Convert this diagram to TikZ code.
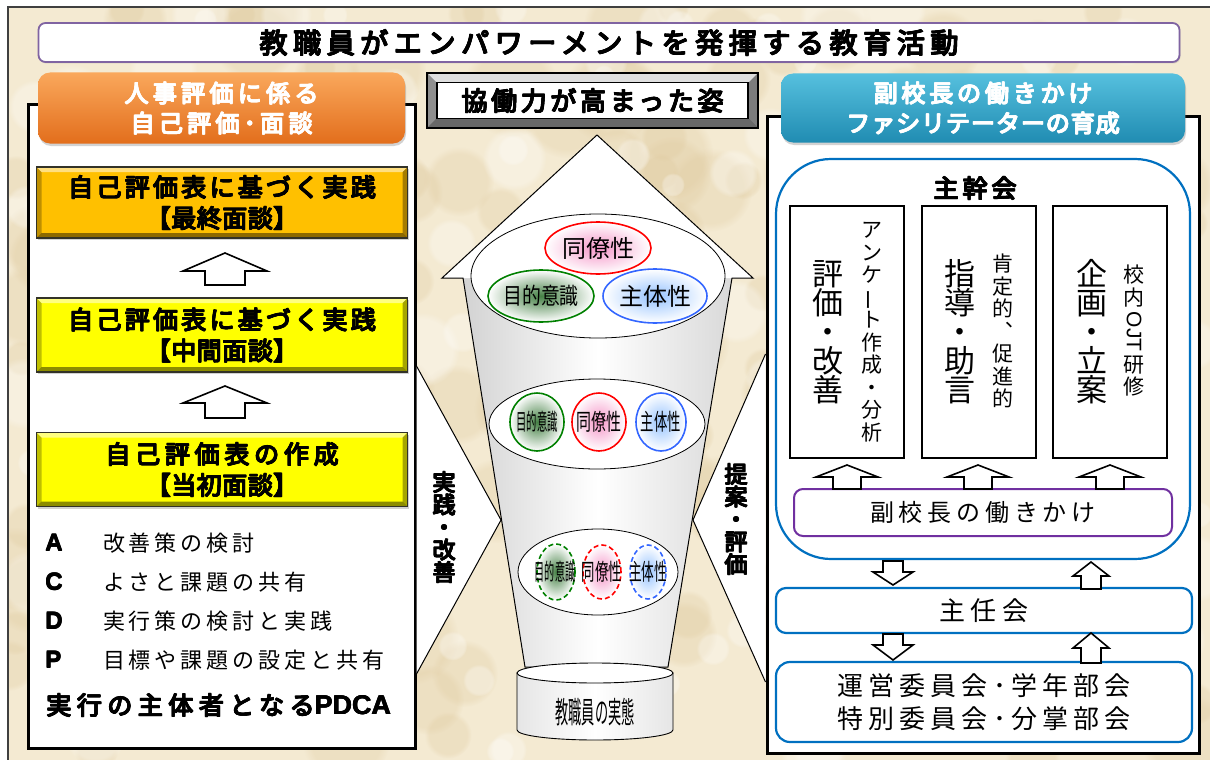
\documentclass[tikz,border=0pt]{standalone}
\usepackage{fontspec}
\usepackage{graphicx}
\usetikzlibrary{shapes.geometric,shadows,fadings}
\newfontfamily\jp{Noto Sans CJK JP}[AutoFakeBold=2]
\newfontfamily\lat{Liberation Sans}
% font size with its own line pitch; glyph boxes may touch in stacked text
\newcommand\fsz[2]{\fontsize{#1}{#2}\selectfont\lineskiplimit=-100pt\relax}
\newcommand\lsp[1]{\addfontfeature{LetterSpace=#1}}
\newcommand\heavy{\jp\bfseries}
% extra-heavy text: the same line overprinted with small offsets
\newcommand\thk[1]{\leavevmode\rlap{#1}\rlap{\hspace{0.7pt}#1}\rlap{\raisebox{0.6pt}{#1}}\hspace{0.7pt}\raisebox{0.6pt}{#1}}
% block arrow: centre x, tip y, head base y, tail y, head half-width, shaft half-width
\newcommand\BlockArrow[6]{%
  \draw[blockarrow] (#1,#2) -- (#1+#5,#3) -- (#1+#6,#3) -- (#1+#6,#4)
    -- (#1-#6,#4) -- (#1-#6,#3) -- (#1-#5,#3) -- cycle;}
\definecolor{paper}{RGB}{244,234,210}
\definecolor{paperdark}{RGB}{222,200,155}
\definecolor{titlepurple}{RGB}{128,100,162}
\definecolor{vpurple}{RGB}{112,48,160}
\definecolor{msblue}{RGB}{0,112,192}
\definecolor{orangetop}{RGB}{250,168,92}
\definecolor{orangebot}{RGB}{226,110,28}
\definecolor{tealtop}{RGB}{86,192,222}
\definecolor{tealbot}{RGB}{32,140,178}
\definecolor{gold}{RGB}{255,192,0}
\definecolor{lemon}{RGB}{255,255,0}
\definecolor{bevelline}{RGB}{50,50,40}
\definecolor{ringgreen}{RGB}{0,128,0}
\definecolor{ringred}{RGB}{255,0,0}
\definecolor{ringblue}{RGB}{51,102,255}
\definecolor{glowgreen}{RGB}{70,130,70}
\definecolor{glowpink}{RGB}{245,150,200}
\definecolor{glowblue}{RGB}{150,195,255}

\begin{document}
\begin{tikzpicture}[x=1pt,y=-1pt,
  txt/.style={inner sep=0pt,outer sep=0pt},
  bevelled/.style={path picture={
    \coordinate (pnw) at (path picture bounding box.north west);
    \coordinate (pne) at (path picture bounding box.north east);
    \coordinate (psw) at (path picture bounding box.south west);
    \coordinate (pse) at (path picture bounding box.south east);
    \fill[white,opacity=0.5] (pnw) -- (pne) -- ([shift={(-#1,-#1)}]pne) -- ([shift={(#1,-#1)}]pnw) -- cycle;
    \fill[black,opacity=0.25] (pnw) -- (psw) -- ([shift={(#1,#1)}]psw) -- ([shift={(#1,-#1)}]pnw) -- cycle;
    \fill[black,opacity=0.45] (psw) -- (pse) -- ([shift={(-#1,#1)}]pse) -- ([shift={(#1,#1)}]psw) -- cycle;
    \fill[black,opacity=0.35] (pne) -- (pse) -- ([shift={(-#1,#1)}]pse) -- ([shift={(-#1,-#1)}]pne) -- cycle;
  }},
  yellowbox/.style={draw=bevelline, line width=1.8pt, bevelled=5pt,
    drop shadow={shadow xshift=1.5pt,shadow yshift=-2pt,opacity=0.35},
    font={\heavy\fsz{25}{31}}, align=center, inner sep=0pt},
  header/.style={rounded corners=12pt, text=white, align=center, inner sep=0pt,
    drop shadow={shadow xshift=1pt,shadow yshift=-2.5pt,opacity=0.35}},
  panel/.style={draw=black, line width=3pt, fill=white},
  blockarrow/.style={draw=black, line width=1.6pt, fill=white, line join=miter},
  bluebox/.style={draw=msblue, line width=2.2pt, fill=white, inner sep=0pt},
  vbig/.style={txt, font={\jp\fsz{31}{29}}, align=center},
  vsmall/.style={txt, font={\jp\fsz{21}{22.5}}, align=center},
  vbold/.style={txt, font={\heavy\fsz{23}{22.5}}, align=center},
  ring/.style={ellipse, line width=1.6pt, inner sep=0pt, outer color=white},
  ringtext/.style={txt, font={\jp\fsz{23}{23}}},
  pane/.style={ellipse, draw=black, line width=0.8pt, fill=white, inner sep=0pt},
  cutline/.style={draw=black, line width=1pt, line join=miter}
]
\useasboundingbox (0,0) rectangle (1210,760);

% paper background with a soft mottled texture, and the frame
\fill[white] (0,0) rectangle (1210,760);
\fill[paper] (8,7) rectangle (1210,760);
\begin{scope}
  \clip (8,7) rectangle (1210,760);
  \pgfmathsetseed{11}
  \foreach \i in {1,...,160} {
    \pgfmathsetmacro\px{8+1200*rnd}
    \pgfmathsetmacro\py{7+753*rnd}
    \pgfmathsetmacro\pr{14+34*rnd}
    \fill[paperdark, opacity=0.28, path fading=circle with fuzzy edge 20 percent]
      (\px,\py) circle[radius=\pr pt];
  }
  \foreach \i in {1,...,110} {
    \pgfmathsetmacro\px{8+1200*rnd}
    \pgfmathsetmacro\py{7+753*rnd}
    \pgfmathsetmacro\pr{10+28*rnd}
    \fill[white, opacity=0.3, path fading=circle with fuzzy edge 20 percent]
      (\px,\py) circle[radius=\pr pt];
  }
\end{scope}
\draw[line width=1.2pt, black!75] (8,760) -- (8,7) -- (1210,7);

% title bar
\node[draw=titlepurple, line width=1.8pt, rounded corners=7pt, fill=white,
  minimum width=1141pt, minimum height=39pt,
  drop shadow={opacity=0.25,shadow xshift=1pt,shadow yshift=-1.5pt},
  font={\heavy\fsz{28}{28}\lsp{20}}] (title) at (609,42.5)
  {\thk{教職員がエンパワーメントを発揮する教育活動}};

% ---------------- left panel ----------------
\node[panel, minimum width=387pt, minimum height=644pt] (lpanel) at (221.5,426) {};
\node[header, top color=orangetop, bottom color=orangebot,
  minimum width=367pt, minimum height=71pt, font={\heavy\fsz{24}{30}\lsp{18}}]
  (lhead) at (221.5,108) {\thk{人事評価に係る}\\\thk{自己評価･面談}};

\node[yellowbox, fill=gold, minimum width=371pt, minimum height=71pt] (b1) at (222,202.5)
  {\lsp{13}\thk{自己評価表に基づく実践}\\\lsp{2}\thk{【最終面談】}};
\node[yellowbox, fill=lemon, minimum width=371pt, minimum height=74pt] (b2) at (222,335)
  {\lsp{13}\thk{自己評価表に基づく実践}\\\lsp{2}\thk{【中間面談】}};
\node[yellowbox, fill=lemon, minimum width=371pt, minimum height=74pt] (b3) at (222,469.5)
  {\lsp{19}\thk{自己評価表の作成}\\\lsp{2}\thk{【当初面談】}};

\BlockArrow{225}{253}{271}{285}{42}{20}
\BlockArrow{225}{386}{403}{418}{42}{20}

\foreach \y/\l/\t in {543/A/改善策の検討, 582/C/よさと課題の共有,
    621/D/実行策の検討と実践, 660/P/目標や課題の設定と共有} {
  \node[txt, anchor=west, font={\lat\bfseries\fontsize{24}{24}\selectfont}] (key\l) at (45,\y) {\thk{\l}};
  \node[txt, anchor=west, font={\jp\fsz{22}{22}\lsp{18}}] (item\l) at (103,\y) {\t};
}
\node[txt, anchor=west, font={\heavy\fsz{25}{25}\lsp{22}}] (pdca) at (46,705)
  {\thk{実行の主体者となる{\lat\bfseries\fontsize{27}{27}\selectfont PDCA}}};

% ---------------- right panel ----------------
\node[panel, minimum width=432pt, minimum height=637pt] (rpanel) at (983,434.5) {};
\node[header, top color=tealtop, bottom color=tealbot,
  minimum width=404pt, minimum height=69pt, font={\heavy\fsz{24}{30}}] (rhead) at (983,108)
  {\lsp{16}\thk{副校長の働きかけ}\\\lsp{4}\thk{ファシリテーターの育成}};

\node[bluebox, rounded corners=55pt, minimum width=414pt, minimum height=400pt] (kanbu) at (983,359) {};
\node[txt, font={\heavy\fsz{25}{25}\lsp{16}}] (kanbulbl) at (975,188) {\thk{主幹会}};

\foreach \n/\x in {r1/847, r2/979, r3/1110}
  \node[draw=black, line width=1.6pt, fill=white, minimum width=114pt, minimum height=252pt] (\n) at (\x,332) {};

\node[vbig] (r1big) at (828,332) {評\\価\\・\\改\\善};
\node[vsmall] (r1small) at (872,332) {ア\\ン\\ケ\\\rotatebox[origin=c]{90}{ー}\\ト\\作\\成\\・\\分\\析};
\node[vbig] (r2big) at (960,332) {指\\導\\・\\助\\言};
\node[vsmall] (r2small) at (1003,331) {肯\\定\\的\\︑\\促\\進\\的};
\node[vbig] (r3big) at (1092,332) {企\\画\\・\\立\\案};
\node[vsmall] (r3small) at (1134,331)
  {校\\内\\[11pt]\rotatebox[origin=c]{-90}{\lat OJT}\\[11pt]研\\修};

\node[draw=vpurple, line width=2pt, rounded corners=9pt, fill=white,
  minimum width=378pt, minimum height=47pt, font={\jp\fsz{24}{24}\lsp{20}}] (fuku) at (983,512.5)
  {副校長の働きかけ};
\foreach \x in {847,978,1110} { \BlockArrow{\x}{465}{477}{489}{31}{14} }

\node[bluebox, rounded corners=10pt, minimum width=416pt, minimum height=45pt,
  font={\jp\fsz{26}{26}\lsp{22}}] (shunin) at (984,610.5) {主任会};
\node[bluebox, rounded corners=14pt, minimum width=416pt, minimum height=80pt,
  font={\jp\fsz{26}{33}\lsp{20}}, align=center] (iinkai) at (984,702)
  {運営委員会･学年部会\\特別委員会･分掌部会};

\BlockArrow{893}{585}{572}{561}{20}{10}
\BlockArrow{1091}{562}{576}{589}{18}{10}
\BlockArrow{893}{660}{645}{634}{20}{10}
\BlockArrow{1091}{633}{648}{663}{18}{10}

% ---------------- centre ----------------
% side wedges behind the funnel
\path[fill=white, cutline] (416.5,366) -- (501,520) -- (416.5,674);
\path[fill=white, cutline] (765.5,354) -- (693,520) -- (765.5,682);
\node[vbold] (jissen) at (444,527) {\thk{実}\\\thk{践}\\\thk{・}\\\thk{改}\\\thk{善}};
\node[vbold] (teian) at (736,519) {\thk{提}\\\thk{案}\\\thk{・}\\\thk{評}\\\thk{価}};

% funnel-shaped arrow
\shade[left color=gray!35, right color=gray!30, middle color=white]
  (463,278) -- (732,278) -- (668,667) -- (525,667) -- cycle;
\fill[white] (597,135) -- (753,278) -- (442,278) -- cycle;
\draw[cutline] (597,135) -- (753,278) -- (732,278) -- (668,667) -- (525,667)
  -- (463,278) -- (442,278) -- cycle;

% upper stage
\node[pane, minimum width=254pt, minimum height=124pt] (stage1) at (598,276) {};
\node[ring, draw=ringred, inner color=glowpink, minimum width=106pt, minimum height=52pt] (dosei1) at (598,248) {};
\node[ring, draw=ringgreen, inner color=glowgreen, minimum width=106pt, minimum height=52pt] (mokuteki1) at (541,296) {};
\node[ring, draw=ringblue, inner color=glowblue, minimum width=104pt, minimum height=54pt] (shutai1) at (655,296) {};
\node[ringtext, font={\jp\fsz{24}{24}}] (dosei1t) at (dosei1) {同僚性};
\node[ringtext] (mokuteki1t) at (mokuteki1) {\scalebox{0.82}[1]{目的意識}};
\node[ringtext, font={\jp\fsz{24}{24}}] (shutai1t) at (shutai1) {主体性};

% middle stage
\node[pane, minimum width=216pt, minimum height=90pt] (stage2) at (597,424) {};
\node[ring, draw=ringgreen, inner color=glowgreen, minimum width=54pt, minimum height=58pt] (mokuteki2) at (537,422) {};
\node[ring, draw=ringred, inner color=glowpink, minimum width=54pt, minimum height=58pt] (dosei2) at (599,422) {};
\node[ring, draw=ringblue, inner color=glowblue, minimum width=50pt, minimum height=58pt] (shutai2) at (661,422) {};
\node[ringtext] (mokuteki2t) at (mokuteki2) {\scalebox{0.45}[1]{目的意識}};
\node[ringtext] (dosei2t) at (dosei2) {\scalebox{0.65}[1]{同僚性}};
\node[ringtext] (shutai2t) at (shutai2) {\scalebox{0.58}[1]{主体性}};

% lower stage
\node[pane, minimum width=160pt, minimum height=86pt] (stage3) at (598,572) {};
\node[ring, draw=ringgreen, dash pattern=on 5pt off 3pt, inner color=glowgreen,
  minimum width=38pt, minimum height=56pt] (mokuteki3) at (556,572) {};
\node[ring, draw=ringred, dash pattern=on 5pt off 3pt, inner color=glowpink,
  minimum width=38pt, minimum height=54pt] (dosei3) at (602,572) {};
\node[ring, draw=ringblue, dash pattern=on 5pt off 3pt, inner color=glowblue,
  minimum width=36pt, minimum height=54pt] (shutai3) at (648,572) {};
\node[ringtext] (mokuteki3t) at (555,572) {\scalebox{0.44}[1]{目的意識}};
\node[ringtext] (dosei3t) at (dosei3) {\scalebox{0.58}[1]{同僚性}};
\node[ringtext] (shutai3t) at (shutai3) {\scalebox{0.55}[1]{主体性}};

% base cylinder
\shadedraw[left color=gray!20, right color=gray!20, middle color=white, draw=black, line width=0.9pt]
  (517,673) -- (517,730) arc[start angle=180, end angle=360, x radius=78pt, y radius=10pt]
  -- (673,673) -- cycle;
\draw[fill=white, line width=0.9pt] (595,673) ellipse [x radius=78pt, y radius=10pt];
\node[txt, font={\jp\fsz{30}{30}}] (jittai) at (595,712) {\scalebox{0.44}[1]{教職員の実態}};

% caption frame
\node[draw=black, line width=1.5pt, fill=gray!50, bevelled=9pt,
  minimum width=331pt, minimum height=55pt] (kyodo) at (592.5,100.5) {};
\node[draw=black, line width=1.2pt, fill=white, minimum width=311pt, minimum height=36pt,
  inner sep=0pt, font={\heavy\fsz{26}{26}\lsp{14}}] (kyodoin) at (kyodo) {\thk{協働力が高まった姿}};
\end{tikzpicture}
\end{document}
